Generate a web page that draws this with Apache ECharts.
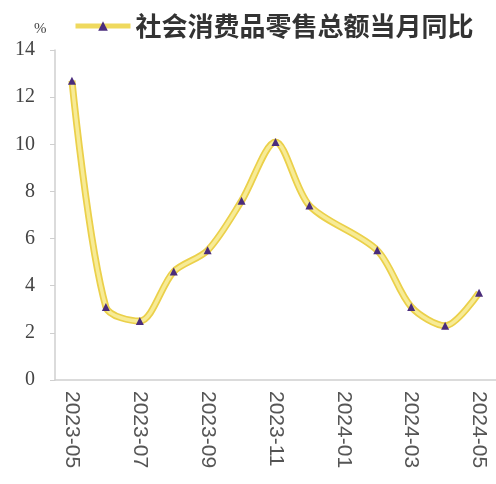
<!DOCTYPE html>
<html>
<head>
<meta charset="utf-8">
<script src="https://cdn.jsdelivr.net/npm/echarts@6/dist/echarts.min.js"></script>
<style>
  html, body { margin: 0; padding: 0; background: #fff; }
  #chart { width: 496px; height: 484px; }
</style>
</head>
<body>
<div id="chart"></div>
<script>
// 月份
var months = ["2023-05", "2023-06", "2023-07", "2023-08", "2023-09", "2023-10", "2023-11",
  "2023-12", "2024-01", "2024-02", "2024-03", "2024-04", "2024-05"];
// 社会消费品零售总额当月同比 (%)，1月与2月合并公布
var retailYoY = [12.7, 3.1, 2.5, 4.6, 5.5, 7.6, 10.1, 7.4, null, 5.5, 3.1, 2.3, 3.7];
var seriesName = "社会消费品零售总额当月同比";

var myChart = echarts.init(document.getElementById("chart"));
var option = {
  animation: false,
  title: {
    text: "%",
    left: 29,
    top: 17,
    textStyle: { fontFamily: "Liberation Serif", fontSize: 15, fontWeight: "normal", color: "#444" }
  },
  legend: {
    data: [seriesName],
    left: 68,
    top: 8,
    itemWidth: 55,
    itemHeight: 12,
    itemGap: 5,
    lineStyle: { color: "#efd95e", width: 5 },
    textStyle: { fontFamily: "Noto Sans CJK SC", fontSize: 26, fontWeight: "bold", color: "#333" }
  },
  grid: { left: 55, right: -4, top: 50, bottom: 104 },
  xAxis: {
    type: "category",
    data: months,
    boundaryGap: true,
    axisLine: { lineStyle: { color: "#cfcfcf", width: 1.5 } },
    axisTick: { interval: 1, length: 5, lineStyle: { color: "#cfcfcf" } },
    axisLabel: {
      interval: 1,
      rotate: -90,
      margin: 11,
      fontFamily: "Liberation Sans",
      fontSize: 21,
      color: "#555"
    }
  },
  yAxis: {
    type: "value",
    min: 0,
    max: 14,
    interval: 2,
    splitLine: { show: false },
    axisLine: { show: true, lineStyle: { color: "#cfcfcf", width: 1.5 } },
    axisTick: { show: true, length: 5, lineStyle: { color: "#cfcfcf" } },
    axisLabel: { margin: 20, fontFamily: "Liberation Serif", fontSize: 20, color: "#444" }
  },
  series: [
    {
      // 外描边
      name: "outline",
      type: "line",
      data: retailYoY,
      smooth: 0.3,
      connectNulls: true,
      silent: true,
      symbol: "none",
      lineStyle: { color: "#ebd04a", width: 7 },
      z: 2
    },
    {
      name: seriesName,
      type: "line",
      data: retailYoY,
      smooth: 0.3,
      connectNulls: true,
      symbol: "triangle",
      symbolSize: 8,
      itemStyle: { color: "#4a2c7c" },
      lineStyle: { color: "#f7eb96", width: 3.5 },
      z: 3
    }
  ]
};
myChart.setOption(option);
</script>
</body>
</html>
